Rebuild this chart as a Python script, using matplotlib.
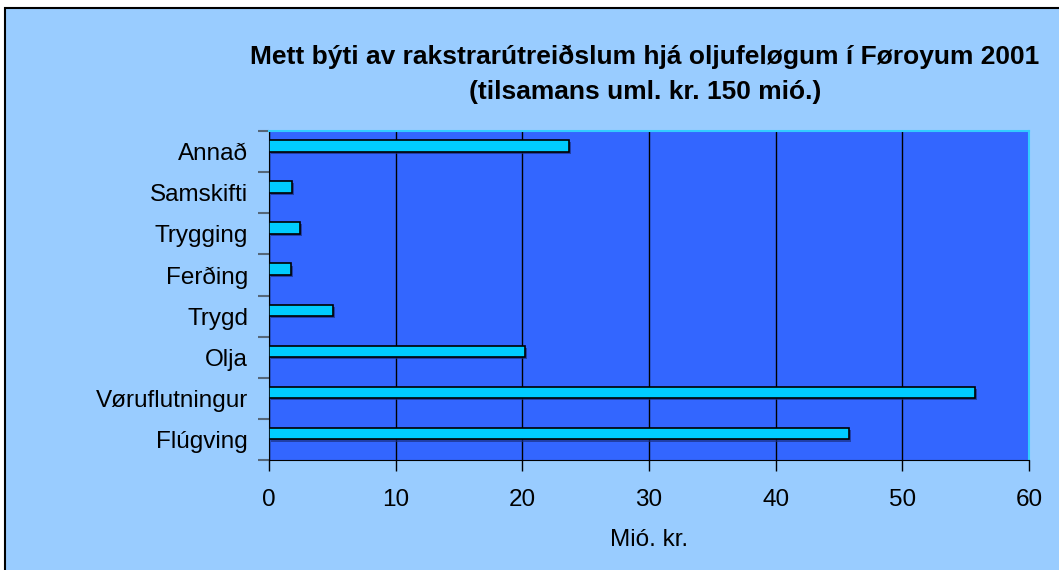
import numpy as np
import matplotlib.pyplot as plt
import matplotlib.patheffects as pe
from matplotlib.patches import Rectangle

plt.rcParams['font.family'] = ['Liberation Sans', 'DejaVu Sans']

# Data (top to bottom as shown)
flokkar = ['Annað', 'Samskifti', 'Trygging', 'Ferðing', 'Trygd', 'Olja',
           'Vøruflutningur', 'Flúgving']
virdi = [23.7, 1.8, 2.45, 1.7, 5.05, 20.2, 55.7, 45.8]
x_ticks = [0, 10, 20, 30, 40, 50, 60]

W, H = 1059, 570
fig = plt.figure(figsize=(W / 100, H / 100), dpi=100, facecolor='white')

# outer chart frame
fig.patches.append(Rectangle((5 / W, -0.1), 1.0, 1.1 - 8 / H, transform=fig.transFigure,
                             facecolor='#99CCFF', edgecolor='black', linewidth=1.5,
                             zorder=0))

ax = fig.add_axes([269 / W, 1 - 460 / H, 760 / W, 329 / H])
ax.set_zorder(2)
ax.set_facecolor('#3366FF')

y = np.arange(len(flokkar))
bars = ax.barh(y - 0.14, virdi, height=0.28, color='#00CCFF', edgecolor='black',
               linewidth=1.2, zorder=3)
for b in bars:
    b.set_path_effects([pe.SimplePatchShadow(offset=(1.5, -1.5),
                                             shadow_rgbFace='#1a2f80', alpha=0.7),
                        pe.Normal()])

ax.set_xlim(0, 60)
ax.set_ylim(len(flokkar) - 0.5, -0.5)
ax.set_xticks(x_ticks)
ax.set_yticks(y)
ax.set_yticklabels(flokkar)
ax.set_yticks(np.arange(len(flokkar) + 1) - 0.5, minor=True)
ax.tick_params(axis='y', which='major', length=0, pad=15, labelsize=17.5)
ax.tick_params(axis='y', which='minor', length=8, width=1.5, color='#556677')
ax.tick_params(axis='x', length=8, width=1, color='black', pad=13, labelsize=17.5)
ax.grid(axis='x', color='black', linewidth=1, zorder=1)
ax.set_axisbelow(True)

ax.spines['top'].set_color('#33CCFF')
ax.spines['right'].set_color('#33CCFF')
ax.spines['top'].set_linewidth(1.5)
ax.spines['right'].set_linewidth(1.5)
ax.spines['left'].set_color('black')
ax.spines['bottom'].set_color('black')

ax.set_xlabel('Mió. kr.', fontsize=17.5, labelpad=13)

fig.text(645 / W, 1 - 57 / H,
         'Mett býti av rakstrarútreiðslum hjá oljufeløgum í Føroyum 2001',
         ha='center', va='center', fontsize=19, fontweight='bold', zorder=3)
fig.text(645 / W, 1 - 92 / H, '(tilsamans uml. kr. 150 mió.)',
         ha='center', va='center', fontsize=19, fontweight='bold', zorder=3)

fig.savefig('out.png', dpi=100, facecolor=fig.get_facecolor())
